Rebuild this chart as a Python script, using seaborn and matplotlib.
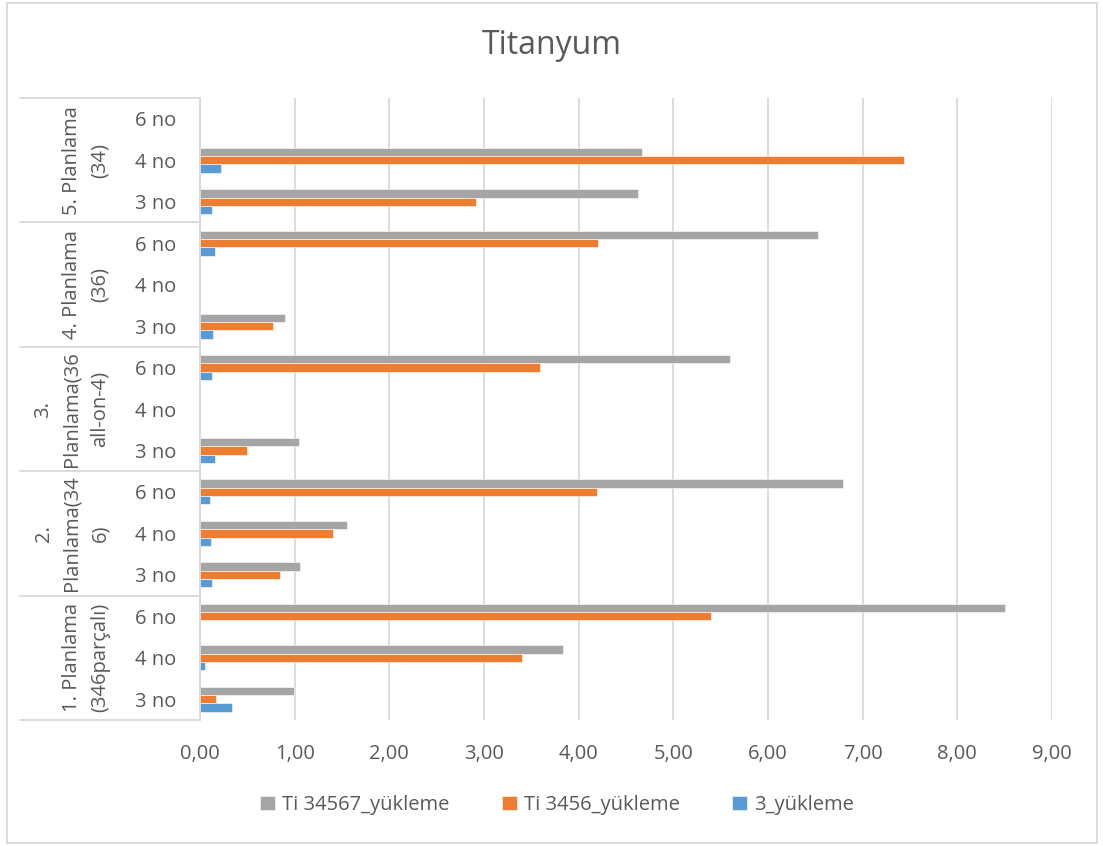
import numpy as np
import pandas as pd
import matplotlib
matplotlib.use("Agg")
import matplotlib.pyplot as plt
import matplotlib.transforms as mtransforms
from matplotlib.lines import Line2D
from matplotlib.patches import Rectangle
import seaborn as sns

nan = np.nan
groups = ["1. Planlama\n(346parçalı)", "2.\nPlanlama(34\n6)", "3.\nPlanlama(36\nall-on-4)",
          "4. Planlama\n(36)", "5. Planlama\n(34)"]
subcats = ["3 no", "4 no", "6 no"]
series_names = ["Ti 34567_yükleme", "Ti 3456_yükleme", "3_yükleme"]
ti34567 = [0.99, 3.83, 8.50, 1.06, 1.55, 6.79, 1.05, nan, 5.60, 0.90, nan, 6.53, 4.63, 4.67, nan]
ti3456 = [0.17, 3.40, 5.40, 0.85, 1.40, 4.19, 0.50, nan, 3.59, 0.77, nan, 4.20, 2.92, 7.44, nan]
y3 = [0.34, 0.05, nan, 0.13, 0.12, 0.11, 0.16, nan, 0.13, 0.14, nan, 0.16, 0.13, 0.22, nan]
xticks = [0, 1, 2, 3, 4, 5, 6, 7, 8, 9]
title = "Titanyum"

colors = {"Ti 34567_yükleme": "#A5A5A5", "Ti 3456_yükleme": "#ED7D31", "3_yükleme": "#5B9BD5"}

keys = []
for gi, g in enumerate(groups):
    for s in subcats:
        keys.append(f"{gi}|{s}")

rows = []
for name, vals in zip(series_names, [ti34567, ti3456, y3]):
    for k, v in zip(keys, vals):
        rows.append({"cat": k, "series": name, "value": v})
df = pd.DataFrame(rows)

sns.set_theme(style="white")
plt.rcParams["font.family"] = ["Open Sans", "DejaVu Sans"]
TXT = "#595959"
GRID = "#D9D9D9"
FS = 14.5

W, H = 1103, 846
fig = plt.figure(figsize=(W / 100, H / 100), dpi=100)
ax = fig.add_axes([200 / W, 1 - 720 / H, (1052 - 200) / W, (720 - 98) / H])

order = keys[::-1]
sns.barplot(data=df, y="cat", x="value", hue="series", order=order, hue_order=series_names,
            palette=colors, orient="h", width=0.6, ax=ax, saturation=1,
            edgecolor="white", linewidth=0.4, errorbar=None)

ax.set_xlim(0, 9)
ax.set_ylim(len(keys) - 0.5, -0.5)
ax.set_xticks(xticks)
ax.set_xticklabels([f"{t:.2f}".replace(".", ",") for t in xticks], color=TXT, fontsize=FS)
ax.set_yticks(range(len(order)))
ax.set_yticklabels([k.split("|")[1] for k in order], color=TXT, fontsize=FS)
ax.tick_params(axis="x", length=0, pad=17)
ax.tick_params(axis="y", length=0, pad=17)
ax.set_xlabel("")
ax.set_ylabel("")
ax.grid(axis="x", color=GRID, linewidth=1.3)
ax.set_axisbelow(True)
for sp in ["top", "right", "bottom"]:
    ax.spines[sp].set_visible(False)
ax.spines["left"].set_color(GRID)
ax.spines["left"].set_linewidth(1.3)
handles, labels = ax.get_legend_handles_labels()
if ax.get_legend() is not None:
    ax.get_legend().remove()

# group separators and labels
trans = mtransforms.blended_transform_factory(fig.transFigure, ax.transData)
ng = len(groups)
for b in range(ng + 1):
    yb = b * 3 - 0.5
    ax.add_line(Line2D([20 / W, 200 / W], [yb, yb], transform=trans, color=GRID,
                       linewidth=1.3, clip_on=False))
for gi, g in enumerate(groups):
    pos = ng - 1 - gi
    yc = pos * 3 + 1
    t = fig.text(110 / W, 0, g, transform=trans, rotation=90, ha="right", va="center",
                 multialignment="center", fontsize=FS, color=TXT, linespacing=1.55)
    t.set_position((110 / W, yc))

fig.suptitle(title, x=0.5, y=1 - 45 / H, va="center", fontsize=23, color=TXT)

fig.legend(handles, labels, loc="center", bbox_to_anchor=(0.505, 1 - 805 / H), ncol=3,
           frameon=False, prop={"size": FS}, handlelength=0.75, handleheight=0.75,
           handletextpad=0.35, columnspacing=2.6, labelcolor=TXT)

fig.patches.append(Rectangle((7 / W, 3 / H), 1090 / W, 840 / H, transform=fig.transFigure,
                             fill=False, edgecolor=GRID, linewidth=1.3))

fig.savefig("out.png", dpi=100, facecolor="white")
